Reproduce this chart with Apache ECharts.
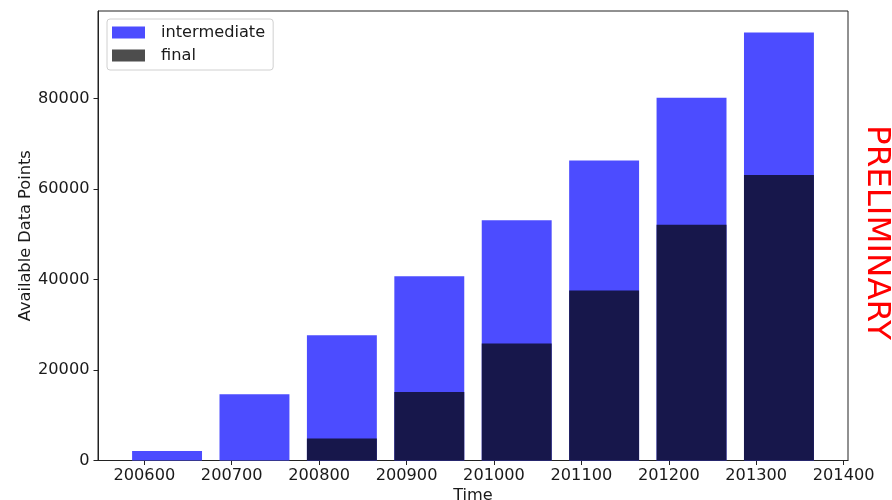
<!DOCTYPE html>
<html>
<head>
<meta charset="utf-8">
<script src="https://cdn.jsdelivr.net/npm/echarts@6/dist/echarts.min.js"></script>
<style>
  html, body { margin: 0; padding: 0; background: #fff; }
  #chart { width: 892px; height: 500px; }
</style>
</head>
<body>
<div id="chart"></div>
<script>
// Time positions of each bar (bar centre on the numeric time axis)
const timeValues = [200626, 200726, 200826, 200926, 201026, 201126, 201226, 201326];
// Available data points per period
const intermediateValues = [2100, 14650, 27700, 40700, 53100, 66300, 80200, 94600];
const finalValues = [0, 0, 4850, 15150, 25850, 37550, 52100, 63100];
// Axis tick positions
const xTicks = [200600, 200700, 200800, 200900, 201000, 201100, 201200, 201300, 201400];
const yTicks = [0, 20000, 40000, 60000, 80000];

const BAR_WIDTH = 80;           // in time units
const X_MIN = 200547, X_MAX = 201405;
const Y_MAX = 99350;

const FONT = 'DejaVu Sans';
const FS = 16.2;
const TEXT = '#1a1a1a';

function barRenderer(color) {
  return function (params, api) {
    const x = api.value(0);
    const y = api.value(1);
    if (!y) return null;
    const topLeft = api.coord([x - BAR_WIDTH / 2, y]);
    const bottomRight = api.coord([x + BAR_WIDTH / 2, 0]);
    return {
      type: 'rect',
      shape: {
        x: topLeft[0],
        y: topLeft[1],
        width: bottomRight[0] - topLeft[0],
        height: bottomRight[1] - topLeft[1]
      },
      style: { fill: color }
    };
  };
}

const chart = echarts.init(document.getElementById('chart'), null, { renderer: 'canvas' });

chart.setOption({
  animation: false,
  backgroundColor: '#ffffff',
  textStyle: { fontFamily: FONT },
  grid: {
    left: 98, right: 44, top: 11, bottom: 39.5,
    containLabel: false,
    outerBoundsMode: 'none',
    show: true, borderColor: '#222', borderWidth: 1, backgroundColor: 'transparent'
  },
  legend: {
    orient: 'vertical',
    left: 107, top: 19,
    padding: [5, 8, 6, 5],
    itemWidth: 33, itemHeight: 12,
    itemGap: 6,
    icon: 'rect',
    backgroundColor: 'rgba(255,255,255,0.8)',
    borderColor: '#d0d0d0', borderWidth: 1, borderRadius: 3,
    textStyle: { fontFamily: FONT, fontSize: FS, color: TEXT, lineHeight: 17, padding: [0, 0, 0, 11] },
    data: [
      { name: 'intermediate', itemStyle: { color: '#4c4cff' } },
      { name: 'final', itemStyle: { color: '#4d4d4d' } }
    ]
  },
  xAxis: {
    type: 'value',
    min: X_MIN, max: X_MAX,
    name: 'Time',
    nameLocation: 'middle',
    nameGap: 27,
    nameMoveOverlap: false,
    nameTextStyle: { fontFamily: FONT, fontSize: FS, color: TEXT },
    splitLine: { show: false },
    axisLine: { show: true, onZero: false, lineStyle: { color: '#222', width: 1 } },
    axisTick: { show: true, length: 4.5, lineStyle: { color: '#222' }, customValues: xTicks },
    axisLabel: {
      fontFamily: FONT, fontSize: FS, color: TEXT, margin: 7.5,
      customValues: xTicks,
      formatter: v => String(v)
    }
  },
  yAxis: {
    type: 'value',
    min: 0, max: Y_MAX,
    name: 'Available Data Points',
    nameLocation: 'middle',
    nameGap: 64,
    nameMoveOverlap: false,
    nameTextStyle: { fontFamily: FONT, fontSize: FS, color: TEXT },
    splitLine: { show: false },
    axisLine: { show: true, lineStyle: { color: '#222', width: 1 } },
    axisTick: { show: true, length: 4.5, lineStyle: { color: '#222' }, customValues: yTicks },
    axisLabel: {
      fontFamily: FONT, fontSize: FS, color: TEXT, margin: 8.5,
      customValues: yTicks,
      formatter: v => String(v)
    }
  },
  graphic: [{
    type: 'text',
    x: 876.5, y: 232.5,
    rotation: -Math.PI / 2,
    style: {
      text: 'PRELIMINARY',
      fill: '#ff0000',
      fontFamily: FONT,
      fontSize: 32.5,
      align: 'center',
      verticalAlign: 'middle'
    }
  }],
  series: [
    {
      name: 'intermediate',
      type: 'custom',
      renderItem: barRenderer('#4c4cff'),
      encode: { x: 0, y: 1 },
      itemStyle: { color: '#4c4cff' },
      data: timeValues.map((t, i) => [t, intermediateValues[i]]),
      z: 2
    },
    {
      name: 'final',
      type: 'custom',
      renderItem: barRenderer('#17174b'),
      encode: { x: 0, y: 1 },
      itemStyle: { color: '#4d4d4d' },
      data: timeValues.map((t, i) => [t, finalValues[i]]),
      z: 3
    }
  ]
});
</script>
</body>
</html>
